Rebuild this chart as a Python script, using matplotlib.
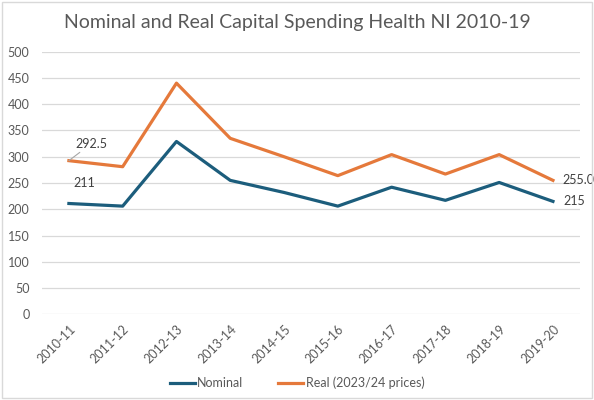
import matplotlib.pyplot as plt
from matplotlib.patches import Rectangle

years = ['2010-11', '2011-12', '2012-13', '2013-14', '2014-15',
         '2015-16', '2016-17', '2017-18', '2018-19', '2019-20']
nominal = [211, 206, 329, 255, 232, 206, 242, 217, 251, 215]
real = [292.5, 281, 440, 335, 300, 264, 304, 267, 304, 255.0]

plt.rcParams['font.family'] = ['Lato', 'DejaVu Sans']
grey = '#595959'

fig = plt.figure(figsize=(5.94, 4.0), dpi=100)
ax = fig.add_axes([0.0707, 0.214, 0.9055, 0.657])

x = range(len(years))
ax.plot(x, nominal, color='#1C5D7C', lw=2.3, label='Nominal', solid_joinstyle='round')
ax.plot(x, real, color='#E5793B', lw=2.3, label='Real (2023/24 prices)', solid_joinstyle='round')

ax.set_xlim(-0.5, len(years) - 0.5)
ax.set_ylim(0, 500)
ax.set_yticks(range(0, 501, 50))
ax.set_xticks(list(x))
ax.set_xticklabels(years, rotation=45, ha='right', rotation_mode='anchor')
ax.tick_params(axis='both', length=0, colors=grey, labelsize=9)
ax.tick_params(axis='y', pad=9)
ax.tick_params(axis='x', pad=6)
ax.grid(axis='y', color='#d9d9d9', lw=0.9)
ax.set_axisbelow(True)
for s in ax.spines.values():
    s.set_visible(False)

# data labels
ax.annotate(f'{real[0]}', xy=(0, real[0]), xytext=(0.12, 325), fontsize=9,
            color='#404040', va='center', ha='left',
            arrowprops=dict(arrowstyle='-', color='#a6a6a6', lw=0.8, shrinkA=0, shrinkB=0))
ax.text(0.08, 250, f'{nominal[0]}', fontsize=9, color='#404040', va='center', ha='left')
ax.text(9.17, real[-1], f'{real[-1]:.1f}', fontsize=9, color='#404040', va='center', ha='left')
ax.text(9.2, nominal[-1], f'{nominal[-1]}', fontsize=9, color='#404040', va='center', ha='left')

fig.suptitle('Nominal and Real Capital Spending Health NI 2010-19', y=0.965,
             fontsize=14, color=grey)
fig.legend(loc='center', bbox_to_anchor=(0.5, 0.042), ncol=2, frameon=False,
           fontsize=9, labelcolor=grey, handlelength=2.0, handletextpad=0.2,
           columnspacing=2.8)

fig.patches.append(Rectangle((0.004, 0.004), 0.992, 0.99, transform=fig.transFigure,
                             fill=False, edgecolor='#d9d9d9', lw=1))

fig.savefig('out.png', dpi=100)
